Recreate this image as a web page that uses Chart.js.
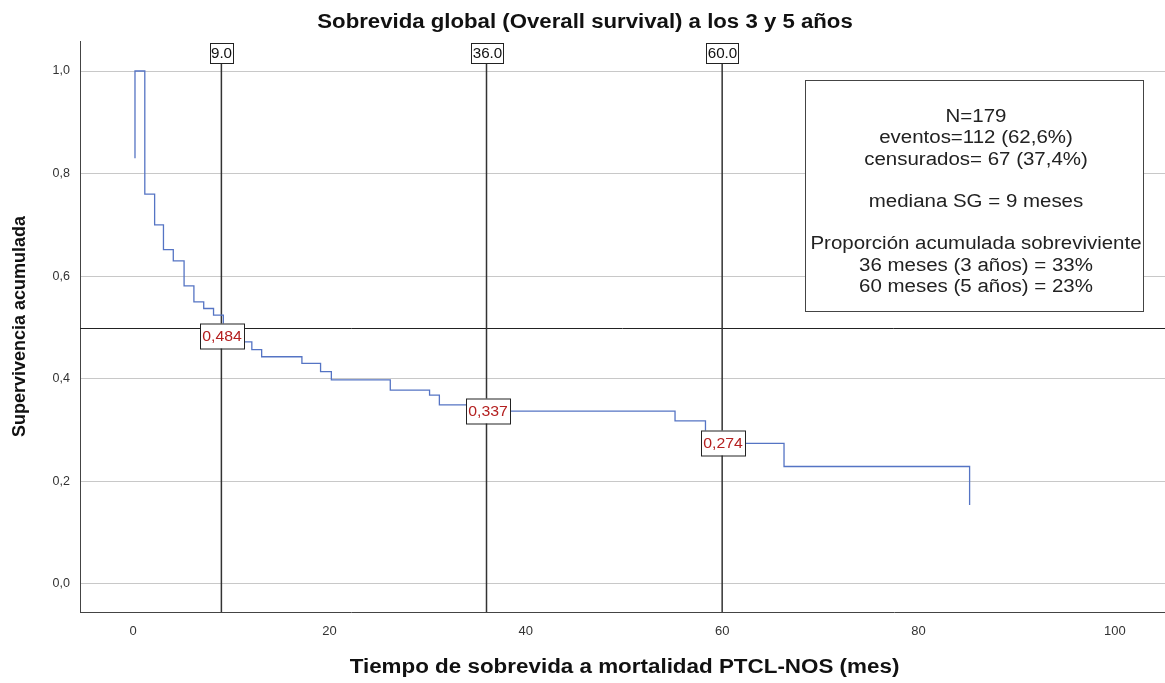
<!DOCTYPE html>
<html>
<head>
<meta charset="utf-8">
<script src="https://cdn.jsdelivr.net/npm/chart.js@4.4.0/dist/chart.umd.min.js"></script>
<style>
  html, body { margin: 0; padding: 0; background: #fff; }
  #contenedor { width: 1165px; height: 683px; }
</style>
</head>
<body>
<div id="contenedor"><canvas id="graficoKM"></canvas></div>
<script>
// Datos de la curva Kaplan-Meier
const tiempos = [0.2, 0.2, 1.2, 2.2, 3.1, 4.1, 5.2, 6.2, 7.2, 8.2, 9.2, 11.0, 12.1, 13.1, 17.2, 19.1, 20.2, 26.2, 30.2, 31.2, 35.0, 55.2, 58.3, 66.3, 85.2];
const supervivencia = [0.83, 1.0, 0.76, 0.70, 0.652, 0.63, 0.581, 0.55, 0.537, 0.524, 0.484, 0.472, 0.457, 0.443, 0.430, 0.414, 0.398, 0.378, 0.368, 0.349, 0.337, 0.318, 0.274, 0.229, 0.154];

// Lineas de referencia
const lineasTiempo = [9, 36, 60];
const etiquetasTiempo = ['9.0', '36.0', '60.0'];
const valoresMarcados = [0.484, 0.337, 0.274];
const etiquetasValores = ['0,484', '0,337', '0,274'];
const lineaMediana = 0.5;

// Marcas de los ejes
const ticksX = [0, 20, 40, 60, 80, 100];
const ticksY = [0, 0.2, 0.4, 0.6, 0.8, 1.0];

// Textos
const titulo = 'Sobrevida global (Overall survival) a los 3 y 5 años';
const tituloX = 'Tiempo de sobrevida a mortalidad PTCL-NOS (mes)';
const tituloY = 'Supervivencia acumulada';
const textoRecuadro = [
  'N=179',
  'eventos=112 (62,6%)',
  'censurados= 67 (37,4%)',
  '',
  'mediana SG = 9 meses',
  '',
  'Proporción acumulada sobreviviente',
  '36 meses (3 años) = 33%',
  '60 meses (5 años) = 23%'
];

const FUENTE = "'Liberation Sans', Arial, sans-serif";
const ESTIRADO = 1.1; // el original tiene el texto algo ensanchado

// escribe un texto ensanchado horizontalmente
function textoAncho(ctx, texto, x, y, factor) {
  ctx.save();
  ctx.translate(x, y);
  ctx.scale(factor, 1);
  ctx.fillText(texto, 0, 0);
  ctx.restore();
}

// Plugin para lineas de referencia, etiquetas, titulos y recuadro
const pluginAnotaciones = {
  id: 'anotaciones',
  beforeDatasetsDraw(chart) {
    const { ctx, chartArea, scales } = chart;
    ctx.save();
    // linea horizontal en 0.5
    const yMed = Math.round(scales.y.getPixelForValue(lineaMediana)) + 0.5;
    ctx.strokeStyle = '#222';
    ctx.lineWidth = 1;
    ctx.beginPath();
    ctx.moveTo(chartArea.left, yMed);
    ctx.lineTo(chartArea.right, yMed);
    ctx.stroke();
    // lineas verticales
    ctx.strokeStyle = '#333';
    ctx.lineWidth = 1.5;
    lineasTiempo.forEach(function(t) {
      const x = scales.x.getPixelForValue(t);
      ctx.beginPath();
      ctx.moveTo(x, chartArea.top + 22);
      ctx.lineTo(x, chartArea.bottom);
      ctx.stroke();
    });
    ctx.restore();
  },
  afterDatasetsDraw(chart) {
    const { ctx, chartArea, scales } = chart;
    ctx.save();
    ctx.textAlign = 'center';
    ctx.textBaseline = 'middle';

    // etiquetas arriba de las lineas verticales
    ctx.font = '13.8px ' + FUENTE;
    lineasTiempo.forEach(function(t, i) {
      const x = Math.round(scales.x.getPixelForValue(t));
      const w = Math.round(ctx.measureText(etiquetasTiempo[i]).width * ESTIRADO) + 2;
      const top = chartArea.top + 2;
      ctx.fillStyle = '#fff';
      ctx.fillRect(x - w / 2, top, w, 20);
      ctx.strokeStyle = '#222';
      ctx.lineWidth = 1;
      ctx.strokeRect(Math.round(x - w / 2) + 0.5, top + 0.5, w, 20);
      ctx.fillStyle = '#111';
      textoAncho(ctx, etiquetasTiempo[i], x + 0.5, top + 11, ESTIRADO);
    });

    // etiquetas de los valores de supervivencia
    ctx.font = '14.4px ' + FUENTE;
    lineasTiempo.forEach(function(t, i) {
      const x = Math.round(scales.x.getPixelForValue(t)) + 1;
      const y = Math.round(scales.y.getPixelForValue(valoresMarcados[i]));
      const w = 44, h = 25;
      ctx.fillStyle = '#fff';
      ctx.fillRect(x - w / 2, y - h / 2, w, h);
      ctx.strokeStyle = '#222';
      ctx.lineWidth = 1;
      ctx.strokeRect(x - w / 2 + 0.5, y - h / 2 + 0.5, w, h);
      ctx.fillStyle = '#b42020';
      textoAncho(ctx, etiquetasValores[i], x, y + 1, ESTIRADO);
    });

    // recuadro con el resumen
    const bx = 805, by = 80, bw = 338, bh = 231;
    ctx.fillStyle = '#fff';
    ctx.fillRect(bx, by, bw, bh);
    ctx.strokeStyle = '#444';
    ctx.lineWidth = 1;
    ctx.strokeRect(bx + 0.5, by + 0.5, bw, bh);
    ctx.fillStyle = '#222';
    ctx.font = '18.8px ' + FUENTE;
    textoRecuadro.forEach(function(linea, i) {
      if (linea) textoAncho(ctx, linea, bx + bw / 2 + 2, 117 + i * 21.2, 1.09);
    });

    // titulo general y titulo del eje X
    ctx.fillStyle = '#111';
    ctx.font = 'bold 20px ' + FUENTE;
    textoAncho(ctx, titulo, 585, 22, 1.11);
    textoAncho(ctx, tituloX, chartArea.left + (chartArea.right - chartArea.left) / 2 + 2, 667, 1.12);
    ctx.restore();
  }
};

const puntos = tiempos.map(function(t, i) { return { x: t, y: supervivencia[i] }; });

new Chart(document.getElementById('graficoKM'), {
  type: 'scatter',
  data: {
    datasets: [{
      label: 'Supervivencia',
      data: puntos,
      showLine: true,
      stepped: true,
      borderColor: '#5574c4',
      borderWidth: 1.3,
      pointRadius: 0,
      fill: false
    }]
  },
  options: {
    responsive: true,
    maintainAspectRatio: false,
    animation: false,
    layout: { padding: { top: 41 } },
    plugins: {
      legend: { display: false },
      tooltip: { enabled: false },
      title: { display: false }
    },
    scales: {
      x: {
        type: 'linear',
        min: -5.4,
        max: 105.1,
        afterBuildTicks: function(scale) {
          scale.ticks = ticksX.map(function(v) { return { value: v }; });
        },
        afterFit: function(scale) { scale.height = 71; },
        grid: { display: false, drawTicks: false },
        border: { display: true, color: '#444', width: 1 },
        ticks: {
          color: '#333',
          padding: 12,
          font: { family: FUENTE, size: 13 },
          maxRotation: 0,
          callback: function(v) { return String(v); }
        }
      },
      y: {
        type: 'linear',
        min: -0.0546,
        max: 1.0585,
        afterBuildTicks: function(scale) {
          scale.ticks = ticksY.map(function(v) { return { value: v }; });
        },
        afterFit: function(scale) { scale.width = 80; },
        grid: { color: '#c8c8c8', lineWidth: 1, drawTicks: false },
        border: { display: true, color: '#444', width: 1 },
        ticks: {
          color: '#333',
          padding: 10,
          font: { family: FUENTE, size: 12.5 },
          callback: function(v) { return v.toFixed(1).replace('.', ','); }
        },
        title: {
          display: true,
          text: tituloY,
          color: '#111',
          font: { family: FUENTE, size: 18, weight: 'bold' },
          padding: { top: 9, bottom: 0 }
        }
      }
    }
  },
  plugins: [pluginAnotaciones]
});
</script>
</body>
</html>
